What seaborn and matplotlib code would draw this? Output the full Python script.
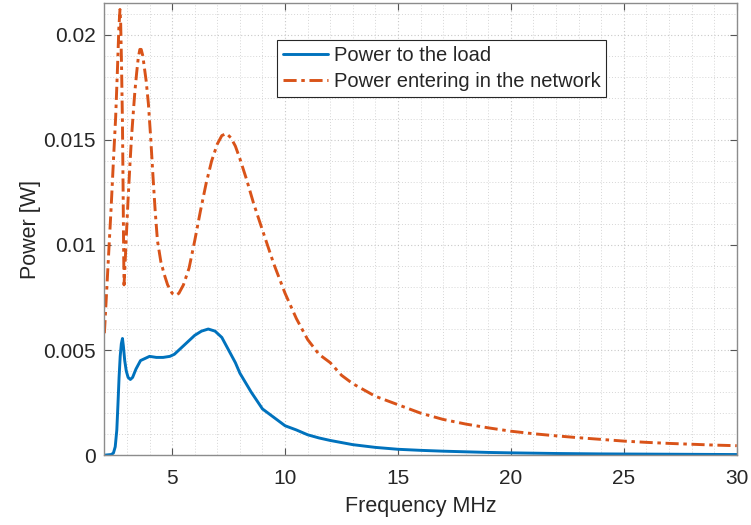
import numpy as np
import pandas as pd
import matplotlib
matplotlib.use("Agg")
import matplotlib.pyplot as plt
from matplotlib.ticker import FuncFormatter, MultipleLocator
import seaborn as sns

# Power entering in the network
freq_net = [2.00, 2.10, 2.20, 2.30, 2.40, 2.50, 2.58, 2.64, 2.69, 2.72, 2.76, 2.80,
            2.83, 2.85, 2.87, 2.92, 2.98, 3.05, 3.13, 3.20, 3.28, 3.35, 3.43, 3.50,
            3.57, 3.63, 3.70, 3.75, 3.85, 3.95, 4.05, 4.15, 4.25, 4.35, 4.50, 4.65,
            4.80, 5.00, 5.15, 5.30, 5.50, 5.75, 6.00, 6.25, 6.50, 6.75, 7.00, 7.20,
            7.40, 7.60, 7.80, 8.00, 8.30, 8.60, 9.00, 9.50, 10.0, 10.5, 11.0, 11.5,
            12.0, 12.5, 13.0, 14.0, 15.0, 16.0, 17.0, 18.0, 19.0, 20.0, 21.0, 22.0,
            23.0, 24.0, 25.0, 26.0, 27.0, 28.0, 29.0, 30.0]
power_net = [0.0058, 0.0078, 0.0098, 0.0118, 0.0140, 0.0161, 0.0184, 0.0203, 0.0212, 0.0206, 0.0185, 0.0158,
             0.0125, 0.0100, 0.0081, 0.0092, 0.0106, 0.0122, 0.0138, 0.0151, 0.0163, 0.0173, 0.0182, 0.0189,
             0.0193, 0.0193, 0.0190, 0.0186, 0.0178, 0.0167, 0.0151, 0.0133, 0.0116, 0.0102, 0.0092, 0.0086,
             0.0081, 0.0077, 0.0076, 0.0077, 0.0081, 0.0089, 0.0102, 0.0116, 0.0129, 0.0140, 0.0148, 0.0152,
             0.0153, 0.0151, 0.0147, 0.0141, 0.0131, 0.0120, 0.0107, 0.0091, 0.0077, 0.0065, 0.0055, 0.0048,
             0.0044, 0.0038, 0.0034, 0.0028, 0.0024, 0.0020, 0.0017, 0.00148, 0.0013, 0.00114, 0.00102, 0.00092,
             0.00083, 0.00075, 0.00067, 0.00061, 0.00056, 0.00052, 0.00048, 0.00045]

# Power to the load
freq_load = [2.00, 2.30, 2.40, 2.48, 2.55, 2.60, 2.65, 2.70, 2.75, 2.80, 2.84, 2.90,
             2.97, 3.05, 3.15, 3.25, 3.40, 3.60, 3.80, 4.00, 4.30, 4.60, 4.90, 5.10,
             5.40, 5.70, 6.00, 6.30, 6.60, 6.90, 7.20, 7.50, 7.80, 8.00, 8.50, 9.00,
             9.50, 10.0, 10.5, 11.0, 11.5, 12.0, 13.0, 14.0, 15.0, 16.0, 17.0, 18.0,
             19.0, 20.0, 22.0, 24.0, 26.0, 28.0, 30.0]
power_load = [0.0, 0.00003, 0.0001, 0.0004, 0.0012, 0.0024, 0.0037, 0.0047, 0.0053, 0.00555, 0.0052, 0.0045,
              0.0040, 0.0037, 0.0036, 0.0037, 0.0041, 0.0045, 0.0046, 0.0047, 0.00465, 0.00465, 0.0047, 0.0048,
              0.0051, 0.0054, 0.0057, 0.0059, 0.0060, 0.0059, 0.0056, 0.0050, 0.0044, 0.0039, 0.0030, 0.0022,
              0.0018, 0.0014, 0.0012, 0.00097, 0.00082, 0.0007, 0.0005, 0.00037, 0.00028, 0.00023, 0.00019, 0.00016,
              0.00013, 0.00011, 0.00008, 0.00006, 0.00005, 0.00004, 0.00003]

series_names = ["Power to the load", "Power entering in the network"]
x_ticks = [5, 10, 15, 20, 25, 30]
y_ticks = [0, 0.005, 0.01, 0.015, 0.02]

sns.set_style("white")
plt.rcParams["font.family"] = ["Liberation Sans", "DejaVu Sans"]

df_load = pd.DataFrame({"f": freq_load, "p": power_load})
df_net = pd.DataFrame({"f": freq_net, "p": power_net})

fig = plt.figure(figsize=(7.51, 5.25), dpi=100)
ax = fig.add_axes([0.139, 0.133, 0.842, 0.861])

sns.lineplot(data=df_load, x="f", y="p", ax=ax, color="#0072BD", lw=2.1,
             label=series_names[0], sort=False)
sns.lineplot(data=df_net, x="f", y="p", ax=ax, color="#D95319", lw=2.1,
             label=series_names[1], sort=False)
ax.lines[1].set_linestyle((0, (4.5, 1.6, 1.2, 1.6)))

ax.set_xlim(2, 30)
ax.set_ylim(0, 0.0215)
ax.set_xticks(x_ticks)
ax.set_yticks(y_ticks)
ax.xaxis.set_minor_locator(MultipleLocator(1))
ax.yaxis.set_minor_locator(MultipleLocator(0.001))
ax.yaxis.set_major_formatter(FuncFormatter(lambda v, p: "%g" % v))

ax.grid(True, which="major", color="#c8c8c8", linestyle=(0, (1, 2)), lw=0.8)
ax.grid(True, which="minor", color="#d6d6d6", linestyle=(0, (1, 2)), lw=0.7)
ax.set_axisbelow(True)

for s in ax.spines.values():
    s.set_color("#8c8c8c")
    s.set_linewidth(1.0)
    s.set_visible(True)

ax.tick_params(axis="both", which="major", direction="in", length=5, width=0.8,
               color="#555555", labelsize=15, labelcolor="#262626",
               top=True, right=True, bottom=True, left=True)
ax.tick_params(axis="x", which="major", pad=10)
ax.tick_params(axis="y", which="major", pad=6)
ax.tick_params(axis="both", which="minor", length=0)

ax.set_xlabel("Frequency MHz", fontsize=15.5, color="#262626", labelpad=6)
ax.set_ylabel("Power [W]", fontsize=15.5, color="#262626", labelpad=2)

leg = ax.legend(loc="upper left", bbox_to_anchor=(0.2733, 0.918), fontsize=14.5,
                frameon=True, fancybox=False, framealpha=1, edgecolor="#262626",
                handlelength=2.2, handletextpad=0.3, borderpad=0.3,
                labelspacing=0.35, borderaxespad=0)
leg.get_frame().set_linewidth(0.8)

fig.savefig("out.png", dpi=100)
